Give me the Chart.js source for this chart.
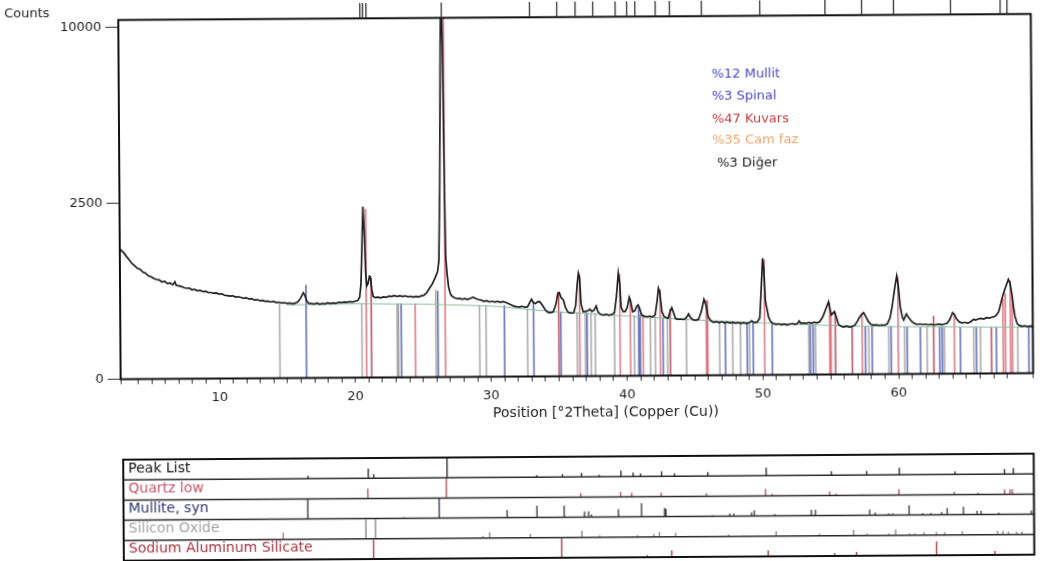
<!DOCTYPE html>
<html><head><meta charset="utf-8">
<script src="https://cdn.jsdelivr.net/npm/chart.js@4.4.1/dist/chart.umd.min.js"></script>
<style>
html,body{margin:0;padding:0;background:#fff;}
#wrap{position:relative;width:1056px;height:561px;overflow:hidden;background:#fff;transform:rotate(-0.38deg);transform-origin:528px 280px;}
canvas{position:absolute;left:0;}
#main{top:0}
#lower{top:448px}
</style></head><body>
<div id="wrap"><canvas id="main" width="1056" height="432"></canvas><canvas id="lower" width="1056" height="113"></canvas></div>
<script>
// ---------- DATA ----------
const scanTheta = [
 2.7,2.85,3.0,3.2,3.4,3.6,3.8,4.0,4.2,4.4,
 4.6,4.8,5.0,5.2,5.4,5.6,5.8,6.0,6.2,6.4,
 6.6,6.75,6.85,7.0,7.2,7.4,7.6,7.8,8.0,8.2,
 8.4,8.6,8.8,9.0,9.2,9.4,9.6,9.8,10.0,10.2,
 10.4,10.6,10.8,11.0,11.2,11.4,11.6,11.8,12.0,12.2,
 12.4,12.6,12.8,13.0,13.2,13.4,13.6,13.8,14.0,14.2,
 14.4,14.6,14.8,15.0,15.2,15.4,15.6,15.8,16.0,16.2,
 16.3,16.45,16.6,16.8,17.0,17.2,17.4,17.6,17.8,18.0,
 18.2,18.4,18.6,18.8,19.0,19.2,19.4,19.6,19.8,20.0,
 20.2,20.35,20.45,20.55,20.63,20.72,20.8,20.88,20.98,21.08,
 21.15,21.25,21.35,21.5,21.7,21.9,22.1,22.3,22.5,22.7,
 22.9,23.1,23.3,23.5,23.7,23.9,24.1,24.3,24.5,24.7,
 24.9,25.1,25.3,25.5,25.7,25.9,26.1,26.2,26.3,26.4,
 26.47,26.55,26.63,26.7,26.8,26.9,27.0,27.1,27.3,27.5,
 27.7,27.9,28.1,28.3,28.5,28.7,28.9,29.1,29.3,29.5,
 29.7,29.9,30.1,30.3,30.5,30.7,30.9,31.1,31.3,31.5,
 31.7,31.9,32.1,32.3,32.5,32.7,32.9,33.0,33.15,33.3,
 33.45,33.6,33.8,34.0,34.2,34.4,34.6,34.8,34.95,35.05,
 35.2,35.35,35.5,35.7,35.9,36.1,36.25,36.38,36.46,36.55,
 36.65,36.8,37.0,37.2,37.3,37.45,37.6,37.76,37.9,38.1,
 38.3,38.5,38.7,38.9,39.1,39.25,39.4,39.5,39.6,39.75,
 39.9,40.05,40.2,40.3,40.45,40.6,40.75,40.85,40.95,41.1,
 41.3,41.5,41.7,41.9,42.1,42.25,42.35,42.45,42.6,42.75,
 42.9,43.05,43.2,43.33,43.45,43.6,43.8,44.0,44.2,44.4,
 44.56,44.7,44.9,45.1,45.3,45.5,45.7,45.85,46.0,46.2,
 46.4,46.6,46.8,47.0,47.2,47.4,47.6,47.8,48.0,48.2,
 48.4,48.6,48.8,49.0,49.2,49.4,49.6,49.8,49.92,50.03,
 50.12,50.22,50.3,50.45,50.6,50.8,51.0,51.2,51.4,51.6,
 51.8,52.0,52.2,52.4,52.6,52.7,52.85,53.0,53.2,53.4,
 53.6,53.8,54.0,54.2,54.4,54.5,54.7,54.87,54.97,55.07,
 55.2,55.3,55.45,55.6,55.8,56.0,56.2,56.4,56.6,56.8,
 57.0,57.1,57.3,57.45,57.6,57.8,58.0,58.2,58.4,58.6,
 58.8,59.0,59.2,59.4,59.55,59.75,59.9,60.0,60.15,60.3,
 60.4,60.6,60.8,61.0,61.2,61.4,61.6,61.8,62.0,62.2,
 62.4,62.6,62.8,63.0,63.2,63.4,63.6,63.8,64.0,64.15,
 64.3,64.5,64.7,64.9,65.1,65.3,65.55,65.7,65.9,66.1,
 66.3,66.5,66.7,66.9,67.1,67.25,67.4,67.55,67.65,67.8,
 67.95,68.12,68.25,68.4,68.5,68.6,68.75,68.9,69.1,69.3,
 69.5,69.7,69.9
];
const scanCounts = [
 1380,1330,1290,1215,1150,1080,1040,990,975,925,
 905,860,845,815,800,790,760,768,735,742,
 715,760,705,700,690,672,662,665,640,645,
 625,630,612,618,600,598,588,592,575,580,
 560,555,548,552,535,540,530,520,526,508,
 512,496,500,486,490,478,480,470,476,462,
 466,455,460,450,455,446,452,470,515,585,
 560,480,450,446,440,452,438,446,442,455,
 444,452,448,460,455,462,458,468,462,470,
 478,520,700,1500,2360,1700,900,680,720,830,
 820,620,530,515,522,512,525,518,535,528,
 540,530,538,528,536,525,530,520,528,522,
 535,545,580,640,700,790,900,1100,3000,9000,
 12500,9000,3500,1170,850,660,580,535,510,495,
 500,488,495,485,498,512,495,482,475,460,
 468,452,460,450,458,448,455,445,430,415,
 400,395,392,398,388,392,450,482,440,430,
 450,452,410,360,332,328,335,420,560,565,
 495,470,380,330,322,325,400,700,856,780,
 420,336,340,350,362,338,350,396,330,305,
 300,306,298,304,320,500,851,700,380,333,
 335,380,498,450,330,340,390,405,370,300,
 285,280,286,278,300,450,616,560,330,282,
 272,265,330,372,320,262,255,258,252,270,
 305,270,250,246,255,330,467,400,277,240,
 226,232,224,231,222,228,220,226,218,224,
 216,222,215,220,238,222,226,260,600,1099,
 900,450,376,270,229,212,205,210,202,208,
 200,206,212,204,215,233,210,218,212,220,
 214,222,216,225,260,287,360,428,350,286,
 305,319,260,200,186,182,188,180,186,195,
 230,253,290,307,270,223,200,195,198,192,
 196,194,205,260,367,600,777,650,366,260,
 236,291,250,221,205,198,202,196,200,194,
 198,192,196,199,193,200,206,240,301,280,
 239,215,208,212,206,215,238,230,242,246,
 240,252,248,256,262,280,308,390,456,539,
 620,714,650,474,340,259,200,185,178,182,
 176,180,178
];
// background (green) line
const bgTheta  = [15, 20, 25, 30, 35, 40, 45, 50, 55, 60, 65, 69.9];
const bgCounts = [432, 440, 432, 404, 334, 289, 248, 218, 194, 181, 175, 172];

// reference stick patterns in the main plot: [2theta, top count]
const silicaSticks = [[14.45,445],[20.5,445],[23.1,440],[23.2,440],[25.95,614],[29.17,415],[29.64,412],[32.7,372],[36.35,330],[36.95,328],[37.37,326],[37.68,324],[39.1,300],[40.56,295],[41.74,288],[42.1,285],[43.0,272],[44.39,262],[46.84,236],[47.8,232],[48.37,229],[49.05,226],[53.4,205],[53.9,203],[57.82,190],[59.29,186],[60.46,183],[62.11,180],[63.39,178],[65.55,176],[66.04,176],[68.79,174]];
const mulliteSticks = [[16.4,700],[23.4,440],[26.1,600],[31.0,412],[33.15,450],[35.15,340],[37.08,328],[40.88,400],[41.0,300],[42.67,275],[47.26,234],[48.86,227],[49.3,226],[50.7,212],[53.52,205],[53.72,204],[57.57,190],[58.06,189],[59.46,186],[60.64,183],[61.62,181],[63.04,179],[63.22,178],[64.56,177],[65.74,176],[67.21,175],[69.6,173]];
const quartzSticks = [[20.83,2300],[24.43,440],[26.64,12000],[36.54,840],[39.5,840],[40.27,490],[41.2,292],[42.47,600],[45.86,460],[45.96,450],[50.15,1080],[54.94,420],[55.04,300],[57.33,300],[59.98,770],[64.12,295],[67.71,450],[67.88,520],[68.25,700],[68.4,470]];
const sasSticks = [[21.2,800],[35.0,560],[43.2,360],[55.36,310],[56.59,190],[62.6,271],[66.85,175]];

// peak markers above the plot (2theta)
const topMarks = [20.5,20.7,20.95,26.5,33.0,35.0,36.35,37.65,39.3,40.15,40.75,42.25,43.3,45.65,49.95,54.75,57.45,59.8,64.0,67.65,68.15];

// lower panel rows: [2theta, relative height]
const rowNames = ['Peak List','Quartz low','Mullite, syn','Silicon Oxide','Sodium Aluminum Silicate'];
const peakListRow = [[16.46,0.15],[20.9,0.5],[21.3,0.2],[26.7,1.0],[33.3,0.1],[35.2,0.15],[36.6,0.2],[37.9,0.1],[39.5,0.3],[40.4,0.2],[40.95,0.15],[42.5,0.25],[43.45,0.15],[45.9,0.2],[50.2,0.4],[55.0,0.2],[57.6,0.2],[60.0,0.35],[64.1,0.15],[67.75,0.25],[68.4,0.3]];
const quartzRow = [[20.86,0.5],[26.64,1.0],[36.54,0.2],[39.47,0.25],[40.29,0.2],[42.45,0.2],[45.79,0.15],[50.14,0.35],[50.62,0.1],[54.87,0.2],[55.33,0.1],[57.23,0.05],[59.96,0.3],[64.03,0.15],[65.79,0.1],[67.74,0.25],[68.14,0.25],[68.31,0.25]];
const mulliteRow = [[16.43,1.0],[23.5,0.05],[26.1,1.0],[31.1,0.4],[33.3,0.6],[35.3,0.6],[36.8,0.3],[37.1,0.3],[37.3,0.15],[39.3,0.4],[41.0,0.7],[42.7,0.45],[42.8,0.4],[46.2,0.05],[47.5,0.15],[47.8,0.15],[49.1,0.2],[49.3,0.3],[50.8,0.1],[53.5,0.3],[53.8,0.3],[57.8,0.3],[58.2,0.15],[59.2,0.1],[59.5,0.1],[60.7,0.5],[61.7,0.1],[62.3,0.1],[63.1,0.15],[63.5,0.35],[64.7,0.4],[65.7,0.2],[66.0,0.2],[67.3,0.1],[69.7,0.2]];
const silicaRow = [[14.6,0.35],[20.7,1.0],[21.4,1.0],[29.3,0.1],[29.8,0.3],[32.8,0.2],[36.6,0.35],[37.9,0.1],[40.7,0.1],[41.9,0.15],[42.3,0.25],[43.5,0.2],[44.5,0.05],[47.4,0.1],[48.5,0.05],[50.9,0.25],[54.1,0.1],[56.6,0.3],[57.6,0.1],[59.2,0.1],[59.7,0.3],[60.7,0.1],[61.1,0.1],[61.8,0.15],[62.7,0.15],[63.3,0.15],[64.6,0.2],[67.2,0.2],[67.6,0.2],[68.0,0.15],[68.6,0.15],[69.0,0.15]];
const sasRow = [[21.25,1.0],[35.1,1.0],[41.4,0.1],[43.2,0.35],[50.3,0.3],[55.2,0.15],[56.8,0.2],[62.7,0.7],[67.0,0.2]];

const yTickValues = [0, 2500, 10000];
const xTickLabels = [10, 20, 30, 40, 50, 60];
const phaseNotes = [
  {text:'%12 Mullit', color:'#4a46c4'},
  {text:'%3 Spinal', color:'#4a46c4'},
  {text:'%47 Kuvars', color:'#cc3a3a'},
  {text:'%35 Cam faz', color:'#f0a46c'},
  {text:'%3 Diğer', color:'#1a1a1a'}
];

// ---------- SQRT SCALE ----------
class SqrtScale extends Chart.LinearScale {
  buildTicks() { return yTickValues.map(v => ({ value: v })); }
  getPixelForValue(value) {
    if (value === null || value === undefined || isNaN(value)) return NaN;
    const a = Math.sqrt(this.min), b = Math.sqrt(this.max);
    return this.getPixelForDecimal((Math.sqrt(Math.max(value, 0)) - a) / (b - a));
  }
  getValueForPixel(pixel) {
    const a = Math.sqrt(this.min), b = Math.sqrt(this.max);
    const s = a + this.getDecimalForPixel(pixel) * (b - a);
    return s * s;
  }
}
SqrtScale.id = 'sqrt';
SqrtScale.defaults = Chart.LinearScale.defaults;
Chart.register(SqrtScale);

Chart.defaults.font.family = "'DejaVu Sans', sans-serif";
Chart.defaults.color = '#1e1e1e';
Chart.defaults.animation = false;

function sticks(list, base, k) {
  const out = [];
  list.forEach(([p, h]) => { out.push({x:p, y:base}, {x:p, y:base + h * k}, {x:p, y:null}); });
  return out;
}
function stickSet(data, color, w) {
  return { data, borderColor: color, borderWidth: w, pointRadius: 0, spanGaps: false, tension: 0 };
}

const scanData = scanTheta.map((t, i) => ({x: t, y: scanCounts[i]}));
const bgData = bgTheta.map((t, i) => ({x: t, y: bgCounts[i]}));

const mainDecor = {
  id: 'mainDecor',
  afterDraw(chart) {
    const {ctx, chartArea: a, scales: {x}} = chart;
    ctx.save();
    // frame
    ctx.strokeStyle = '#111'; ctx.lineWidth = 2;
    ctx.strokeRect(a.left, a.top, a.right - a.left, a.bottom - a.top);
    // top peak markers
    ctx.strokeStyle = '#333'; ctx.lineWidth = 1.3;
    topMarks.forEach(p => {
      const px = x.getPixelForValue(p);
      ctx.beginPath(); ctx.moveTo(px, 2); ctx.lineTo(px, a.top); ctx.stroke();
    });
    // texts
    ctx.textBaseline = 'middle';
    ctx.fillStyle = '#222';
    ctx.font = "13px 'DejaVu Sans'";
    ctx.textAlign = 'left';
    ctx.fillText('Counts', 6, 11);
    ctx.font = "14px 'DejaVu Sans'";
    ctx.textAlign = 'center';
    ctx.fillText('Position [°2Theta] (Copper (Cu))', 605, 413);
    ctx.textAlign = 'left';
    ctx.font = "13px 'DejaVu Sans'";
    const ys = [76, 97.5, 121, 141.5, 165];
    phaseNotes.forEach((n, i) => {
      ctx.fillStyle = n.color;
      ctx.fillText(n.text, i === 4 ? 718 : 713, ys[i]);
    });
    ctx.restore();
  }
};

new Chart(document.getElementById('main'), {
  type: 'line',
  data: { datasets: [
    { data: scanData, borderColor: '#1f1f1f', borderWidth: 1.7, pointRadius: 0, tension: 0 },
    { data: bgData, borderColor: '#8cbf9c', borderWidth: 1, pointRadius: 0, tension: 0 },
    stickSet(sticks(quartzSticks, 0, 1), '#dc7480', 1.5),
    stickSet(sticks(sasSticks, 0, 1), '#b84a5a', 1.5),
    stickSet(sticks(mulliteSticks, 0, 1), '#5a68b4', 1.5),
    stickSet(sticks(silicaSticks, 0, 1), '#a6a6a6', 1.5)
  ]},
  options: {
    responsive: false,
    events: [],
    layout: { padding: { top: 17.3, right: 23.5, left: 0, bottom: 0 } },
    plugins: { legend: { display: false }, tooltip: { enabled: false } },
    scales: {
      x: {
        type: 'linear', min: 2.71, max: 69.9,
        afterFit(s) { s.height = 55.5; },
        border: { display: false },
        grid: { drawOnChartArea: false, drawTicks: true, tickLength: 5, color: '#333', tickColor: '#333' },
        ticks: { stepSize: 1, autoSkip: false, maxRotation: 0, padding: 6, font: { size: 13 },
          callback: v => xTickLabels.includes(Math.round(v * 1000) / 1000) ? String(v) : '' }
      },
      y: {
        type: 'sqrt', min: 0, max: 10425,
        afterFit(s) { s.width = 120; },
        border: { display: false },
        grid: { drawOnChartArea: false, drawTicks: true, tickLength: 13, color: '#333', tickColor: '#333' },
        ticks: { padding: 4, font: { size: 13 }, callback: v => String(v) }
      }
    }
  },
  plugins: [mainDecor]
});

// ---------- LOWER PANEL ----------
const rowColors = ['#111111', '#c35566', '#2a3470', '#a3a3a3', '#a8343f'];
const rowStickColors = ['#222222', '#a84858', '#333344', '#808080', '#a8343f'];
const rowLists = [peakListRow, quartzRow, mulliteRow, silicaRow, sasRow];

const lowerDecor = {
  id: 'lowerDecor',
  afterDraw(chart) {
    const {ctx, chartArea: a, scales: {y}} = chart;
    ctx.save();
    ctx.strokeStyle = '#2a2a2a'; ctx.lineWidth = 1.5;
    for (let i = 1; i < 5; i++) {
      const py = y.getPixelForValue(i);
      ctx.beginPath(); ctx.moveTo(a.left, py); ctx.lineTo(a.right, py); ctx.stroke();
    }
    ctx.lineWidth = 2; ctx.strokeStyle = '#111';
    ctx.strokeRect(a.left, a.top, a.right - a.left, a.bottom - a.top);
    ctx.font = "14px 'DejaVu Sans'";
    ctx.textBaseline = 'middle'; ctx.textAlign = 'left';
    rowNames.forEach((n, r) => {
      const top = y.getPixelForValue(5 - r);
      ctx.fillStyle = rowColors[r];
      ctx.fillText(n, a.left + 5, top + 9);
    });
    ctx.restore();
  }
};

new Chart(document.getElementById('lower'), {
  type: 'line',
  data: { datasets: rowLists.map((list, r) => stickSet(sticks(list, 4 - r, 0.97), rowStickColors[r], 1.3)) },
  options: {
    responsive: false,
    events: [],
    layout: { padding: { top: 9, right: 23.5, left: 122, bottom: 3 } },
    plugins: { legend: { display: false }, tooltip: { enabled: false } },
    scales: {
      x: { type: 'linear', min: 2.857, max: 69.9, display: false },
      y: { type: 'linear', min: 0, max: 5, display: false }
    }
  },
  plugins: [lowerDecor]
});
</script>
</body></html>
